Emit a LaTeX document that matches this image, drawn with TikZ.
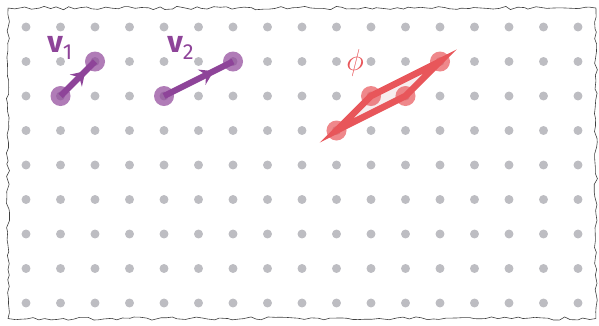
\documentclass[tikz,border=0pt]{standalone}
\usepackage{fontspec}
\setsansfont{Fira Sans}
\usetikzlibrary{decorations.pathmorphing, decorations.markings, arrows.meta}
\definecolor{vecpurple}{HTML}{8E4499}
\definecolor{vecred}{HTML}{E8565A}
\definecolor{dotgray}{HTML}{BDBDC2}
\definecolor{areapink}{HTML}{F7EDEE}

\begin{document}
\begin{tikzpicture}[x=1cm, y=1cm,
    griddot/.style={fill=dotgray, draw=none},
    vecline/.style={line width=5pt, vecpurple, postaction={decorate},
      decoration={markings, mark=at position 0.72 with {\arrow{Stealth[length=11pt, width=14pt, inset=4pt]}}}},
    endpt/.style={fill=#1, fill opacity=0.7, draw=none},
    veclabel/.style={text=vecpurple, font=\sffamily\fontsize{25}{25}\selectfont, inner sep=0pt},
    torn/.style={draw=black!75, line width=0.5pt, decorate,
      decoration={random steps, segment length=5pt, amplitude=1.4pt}}]
    % grid of dots: 17 columns x 9 rows, one unit apart; origin at top-left dot
    \def\rdot{0.13}
    \def\rend{0.29}

    \useasboundingbox (-0.754,0.783) rectangle (16.609,-8.638);

    % torn paper edge
    \coordinate (tl) at (-0.52,0.55);
    \coordinate (br) at (16.52,-8.45);
    \draw[torn] (tl) rectangle (br);

    % dot grid
    \foreach \i in {0,...,16}
      \foreach \j in {0,...,8}
        \fill[griddot] (\i,-\j) circle (\rdot);

    % vector v1
    \coordinate (v1s) at (1,-2);
    \coordinate (v1e) at (2,-1);
    \draw[vecline] (v1s) -- (v1e);
    \fill[endpt=vecpurple] (v1s) circle (\rend);
    \fill[endpt=vecpurple] (v1e) circle (\rend);
    \node[veclabel] (lv1) at (0.98,-0.6) {{\bfseries v}\raisebox{-0.22em}{\fontsize{18}{18}\selectfont 1}};

    % vector v2
    \coordinate (v2s) at (4,-2);
    \coordinate (v2e) at (6,-1);
    \draw[vecline] (v2s) -- (v2e);
    \fill[endpt=vecpurple] (v2s) circle (\rend);
    \fill[endpt=vecpurple] (v2e) circle (\rend);
    \node[veclabel] (lv2) at (4.48,-0.6) {{\bfseries v}\raisebox{-0.22em}{\fontsize{18}{18}\selectfont 2}};

    % parallelogram spanned by v1 and v2
    \coordinate (pa) at (9,-3);
    \coordinate (pb) at (10,-2);
    \coordinate (pc) at (12,-1);
    \coordinate (pd) at (11,-2);
    \fill[areapink] (pa) -- (pb) -- (pc) -- (pd) -- cycle;
    \draw[vecred, line width=5.5pt, line join=miter, miter limit=10] (pa) -- (pb) -- (pc) -- (pd) -- cycle;
    \foreach \p in {pa,pb,pc,pd}
      \fill[endpt=vecred] (\p) circle (\rend);
    \node[text=vecred, font=\fontsize{24}{24}\selectfont, inner sep=0pt] (lphi) at (9.54,-1.04) {$\phi$};
\end{tikzpicture}
\end{document}
